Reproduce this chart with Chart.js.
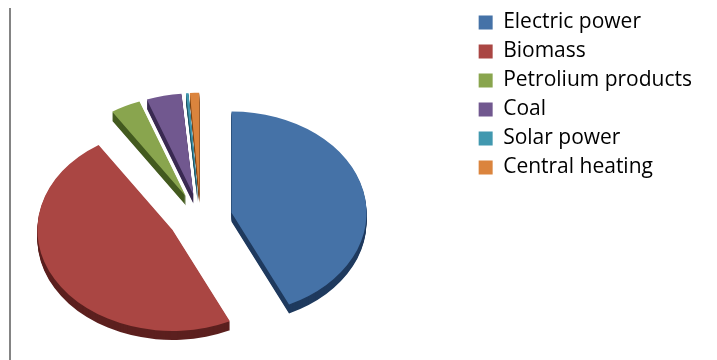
<!DOCTYPE html>
<html>
<head>
<meta charset="utf-8">
<script src="https://cdn.jsdelivr.net/npm/chart.js@4/dist/chart.umd.min.js"></script>
<style>
  body { margin: 0; background: #fff; }
  #wrap { position: relative; width: 717px; height: 360px; }
  #edge { position: absolute; left: 9px; top: 8px; width: 2px; height: 352px; background: #848484; }
</style>
</head>
<body>
<div id="wrap">
  <canvas id="chart" width="717" height="360"></canvas>
  <div id="edge"></div>
</div>
<script>
// energy sources, share of total (%)
var sources = ['Electric power', 'Biomass', 'Petrolium products', 'Coal', 'Solar power', 'Central heating'];
var shares = [43.0, 47.8, 3.6, 4.2, 0.3, 1.1];
var topColors = ['#4572A7', '#AA4643', '#89A54E', '#71588F', '#4198AF', '#DB843D'];
var sideColors = ['#1F3A5E', '#5C201F', '#435A1F', '#3A2A52', '#1F5566', '#7A4215'];

// fake 3d look: squash, drop, explode and a dark side under each slice
var view = { dx: -35, dy: 36, tilt: 0.75, depth: 9, explode: 32 };

function drawSlice(ctx, arc, color, d) {
    var cx = arc.x, cy = arc.y;
    var mid = (arc.startAngle + arc.endAngle) / 2;
    ctx.save();
    ctx.translate(view.dx, view.dy + d);
    ctx.translate(cx, cy);
    ctx.scale(1, view.tilt);
    ctx.translate(-cx, -cy);
    ctx.translate(Math.cos(mid) * view.explode, Math.sin(mid) * view.explode);
    if (color) {
        var c = Object.create(arc);
        c.options = Object.assign({}, arc.options, { backgroundColor: color, borderColor: color });
        c.draw(ctx);
    } else {
        arc.draw(ctx);
    }
    ctx.restore();
}

var pie3d = {
    id: 'pie3d',
    beforeDatasetsDraw: function(chart) {
        var ctx = chart.ctx;
        var arcs = chart.getDatasetMeta(0).data;
        for (var d = view.depth; d >= 1; d--) {
            arcs.forEach(function(a, i) { drawSlice(ctx, a, sideColors[i], d); });
        }
        arcs.forEach(function(a) { drawSlice(ctx, a, null, 0); });
        return false;
    }
};

new Chart(document.getElementById('chart'), {
    type: 'pie',
    data: {
        labels: sources,
        datasets: [{
            data: shares,
            backgroundColor: topColors,
            borderWidth: 0,
            clip: false
        }]
    },
    options: {
        responsive: false,
        animation: false,
        radius: 135,
        layout: { padding: { top: 4, right: 15, bottom: 0, left: 0 } },
        plugins: {
            tooltip: { enabled: false },
            legend: {
                position: 'right',
                align: 'start',
                labels: {
                    boxWidth: 14,
                    boxHeight: 14,
                    padding: 8,
                    color: '#000',
                    font: { family: 'Open Sans', size: 21 }
                }
            }
        }
    },
    plugins: [pie3d]
});
</script>
</body>
</html>
